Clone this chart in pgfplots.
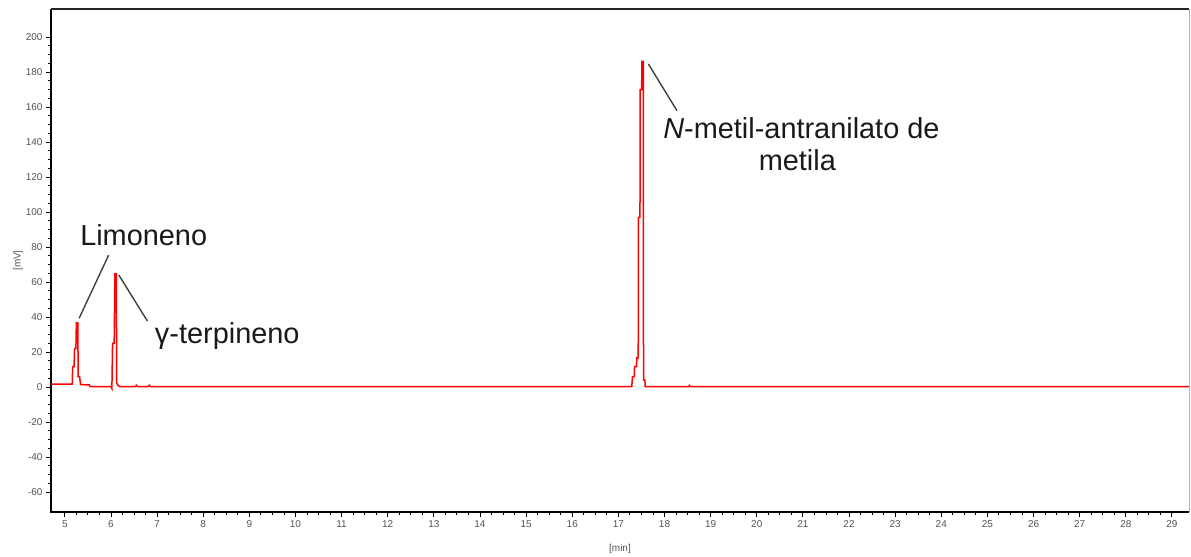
\documentclass[border=0pt]{standalone}
\usepackage{fontspec}
\setmainfont{Liberation Sans}
\usepackage{pgfplots}
\pgfplotsset{compat=1.18}
\begin{document}
\begin{tikzpicture}
\path[use as bounding box] (0,0) rectangle (1191bp,557bp);
\begin{axis}[
  at={(51bp,45bp)}, anchor=south west,
  scale only axis, width=1138bp, height=503bp,
  xmin=4.70, xmax=29.37, ymin=-71.4, ymax=216,
  xtick={5,6,...,29}, ytick={-60,-40,...,200},
  minor x tick num=3, minor y tick num=3,
  tick align=outside, tick pos=left,
  major tick length=5bp, minor tick length=3bp,
  every tick/.style={black, line width=0.9bp},
  axis line style={draw=none},
  /pgf/number format/assume math mode=true,
  ticklabel style={font=\fontsize{10}{12}\selectfont, text=gray!65!black},
  xlabel={[min]}, ylabel={[mV]},
  every axis x label/.style={at={(rel axis cs:0.5,0)}, anchor=center, yshift=-37bp, font=\fontsize{10}{12}\selectfont, text=gray!65!black},
  every axis y label/.style={at={(rel axis cs:0,0.5)}, anchor=center, xshift=-33bp, rotate=90, font=\fontsize{10}{12}\selectfont, text=gray!65!black},
  clip=false,
]
\draw[black, line width=1.6bp] (rel axis cs:0,1) -- (rel axis cs:0,0) -- (rel axis cs:1,0);
\draw[black!85, line width=1.8bp] (rel axis cs:0,1) -- (rel axis cs:1,1);
\draw[gray!60, line width=0.6bp] (rel axis cs:1,0) -- (rel axis cs:1,1);
\addplot[red, line width=1.5bp, mark=none] coordinates {
(4.70,1.6) (5.00,1.6) (5.16,1.6) (5.17,11.6) (5.20,11.6) (5.21,22) (5.24,22) (5.25,36.7) (5.28,36.7) (5.29,6) (5.32,6) (5.34,1.4) (5.53,1.2) (5.55,0.3) (6.00,0.3) (6.02,-0.8) (6.035,25) (6.07,25) (6.085,64.6) (6.115,64.6) (6.125,2.2) (6.15,1.0) (6.19,0.3) (6.53,0.3) (6.55,1.0) (6.57,0.3) (6.81,0.3) (6.83,1.0) (6.85,0.3)
(17.29,0.2) (17.306,5.9) (17.345,5.9) (17.35,11.6) (17.395,11.6) (17.40,16.6) (17.43,16.6) (17.436,97) (17.468,97) (17.473,170) (17.505,170) (17.51,186) (17.54,186) (17.545,4) (17.575,4) (17.581,0.2) (18.52,0.2) (18.54,0.9) (18.56,0.2) (29.37,0.2)
};
\draw[black!75, line width=1.4bp] (axis cs:5.31,39.3) -- (axis cs:5.95,75.4);
\draw[black!75, line width=1.4bp] (axis cs:6.17,64) -- (axis cs:6.79,37.7);
\draw[black!75, line width=1.4bp] (axis cs:17.65,184.6) -- (axis cs:18.27,157.9);
\node[anchor=west, inner sep=0pt, font=\fontsize{29}{33}\selectfont, text=black!90] at (axis cs:5.33,86.9) {Limoneno};
\node[anchor=west, inner sep=0pt, font=\fontsize{29}{33}\selectfont, text=black!90] at (axis cs:6.95,29.1) {γ-terpineno};
\node[anchor=west, inner sep=0pt, font=\fontsize{29}{33}\selectfont, text=black!90] at (axis cs:17.97,148) {\textit{N}-metil-antranilato de};
\node[anchor=center, inner sep=0pt, font=\fontsize{29}{33}\selectfont, text=black!90] at (axis cs:20.88,129.7) {metila};
\end{axis}
\end{tikzpicture}
\end{document}
